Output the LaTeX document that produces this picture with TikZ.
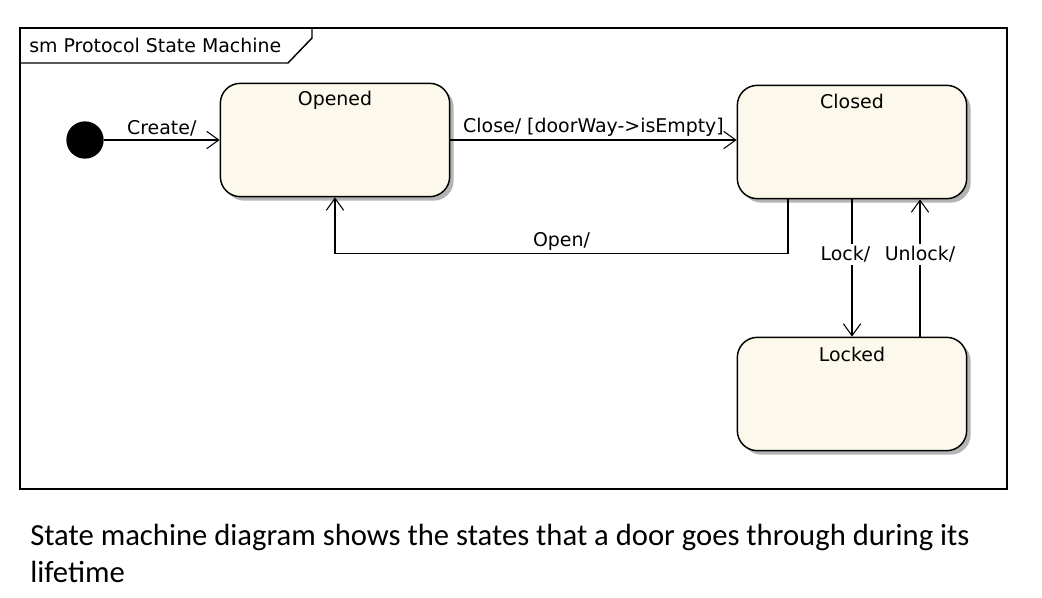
\documentclass[tikz,border=0pt]{standalone}
\usepackage{fontspec}
\usetikzlibrary{arrows.meta,positioning,shadows}
\newfontfamily\diagfont{DejaVu Sans}
\newfontfamily\capfont{Carlito}
\definecolor{statefill}{HTML}{FDF8EC}
\definecolor{stateshade}{HTML}{B4B4B4}

\tikzset{
  state/.style={draw, line width=1.1pt, fill=statefill, rounded corners=15pt,
    minimum width=172pt, minimum height=85pt,
    drop shadow={shadow xshift=3pt, shadow yshift=-3pt, fill=stateshade, opacity=1}},
  trans/.style={line width=1.1pt, -{Straight Barb[length=9pt,width=13pt,line width=0.8pt]}},
  tlabel/.style={inner sep=2pt},
}

\begin{document}
\begin{tikzpicture}[x=0.75pt,y=-0.75pt,font=\diagfont\fontsize{14.2}{17}\selectfont]
  \useasboundingbox (0,0) rectangle (1042,597);
  % frame with its name tab
  \draw[line width=1.1pt] (20,28) rectangle (1007,489);
  \draw[line width=1.1pt] (20,63) -- (288,63) -- (312,38) -- (312,28);
  \node[anchor=west, inner sep=0pt] (title) at (29,45) {sm Protocol State Machine};
  % initial pseudo state
  \node[circle, fill=black, minimum size=28pt, inner sep=0pt] (init) at (85,140) {};
  % states
  \node[state, label={[anchor=center, yshift=-13pt]north:Opened}] (Opened) at (335,140) {};
  \node[state, label={[anchor=center, yshift=-13pt]north:Closed}] (Closed) at (852,142) {};
  \node[state, label={[anchor=center, yshift=-13pt]north:Locked}] (Locked) at (852,394) {};
  % transitions
  \draw[trans] (init) -- node[tlabel, above] {Create/} (Opened);
  \draw[trans] (Opened.east) -- node[tlabel, above] {Close/ [doorWay->isEmpty]} (Opened.east -| Closed.west);
  \draw[trans] ([xshift=-48pt]Closed.south) -- ++(0,54) -| node[tlabel, above, pos=0.25] {Open/} (Opened.south);
  \draw[trans] (Closed.south) -- node[tlabel, fill=white, pos=0.4, xshift=-5pt] {Lock/} (Locked.north);
  \draw[trans] ([xshift=51pt]Locked.north) -- node[tlabel, fill=white, pos=0.6] {Unlock/} ([xshift=51pt]Closed.south);
  % caption
  \node[anchor=north west, align=left, inner sep=0pt, font=\capfont\fontsize{23}{27.5}\selectfont] (caption) at (30,524)
    {State machine diagram shows the states that a door goes through during its\\lifetime};
\end{tikzpicture}
\end{document}
